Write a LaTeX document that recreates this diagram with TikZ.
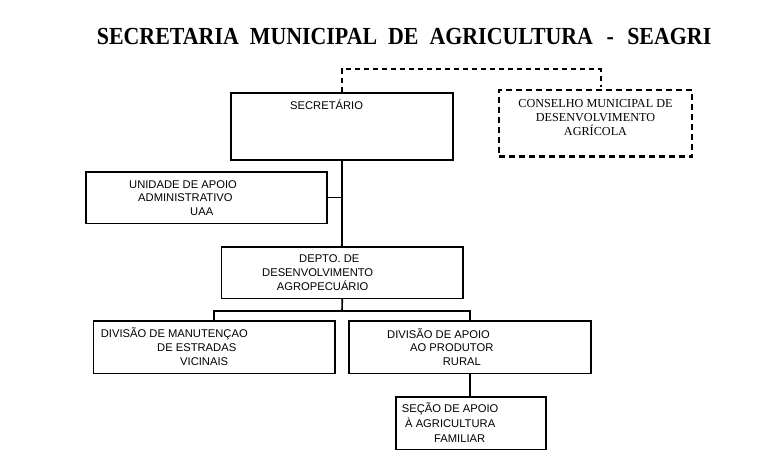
\documentclass[tikz,border=0pt]{standalone}
\usepackage{fontspec}
\setmainfont{Liberation Serif}
\newfontfamily\arialf{Liberation Sans}
\usetikzlibrary{calc}
\begin{document}
\begin{tikzpicture}[x=1pt,y=-1pt,
  box/.style={draw, line width=1.6pt, inner sep=0pt, anchor=center},
  dbox/.style={draw, line width=2.5pt, dash pattern=on 6pt off 4pt, inner sep=0pt, anchor=center},
  conn/.style={line width=1.6pt},
  dconn/.style={line width=1.8pt, dash pattern=on 5pt off 4pt},
  txt/.style={anchor=base west, inner sep=0pt, font=\arialf\fontsize{11.2}{13}\selectfont},
  stxt/.style={anchor=base, inner sep=0pt, font=\fontsize{12.2}{14}\selectfont},
  ttl/.style={anchor=base west, inner sep=0pt, font=\bfseries\fontsize{21.9}{24}\selectfont}]
\useasboundingbox (0,0) rectangle (769,471);
% title
\node[ttl] (title) at (96.7,44.3) {\scalebox{1}[1.12]{SECRETARIA\hspace{11pt}MUNICIPAL\hspace{11pt}DE\hspace{11pt}AGRICULTURA\hspace{13.5pt}-\hspace{13.5pt}SEAGRI}};
% boxes
\node[box, minimum width=222pt, minimum height=67pt] (sec) at (342,126.5) {};
\node[dbox, minimum width=193pt, minimum height=66.7pt] (cons) at (595.5,123.3) {};
\node[box, minimum width=241pt, minimum height=51.6pt] (uaa) at (206.2,197.5) {};
\node[box, minimum width=241.3pt, minimum height=51.6pt] (dep) at (342.3,272.5) {};
\node[box, minimum width=241.7pt, minimum height=52.5pt] (man) at (214.2,347.3) {};
\node[box, minimum width=241.7pt, minimum height=52.5pt] (apo) at (469.9,347.3) {};
\node[box, minimum width=150pt, minimum height=52.6pt] (fam) at (470.7,423) {};
% texts
\node[txt] (t1) at (290,109) {SECRETÁRIO};
\node[stxt] (c1) at (595.5,107.5) {CONSELHO MUNICIPAL DE};
\node[stxt] (c2) at (595.5,121.5) {DESENVOLVIMENTO};
\node[stxt] (c3) at (595.5,135.5) {AGRÍCOLA};
\node[txt] (u1) at (129,188.3) {UNIDADE DE APOIO};
\node[txt] (u2) at (138,201.7) {ADMINISTRATIVO};
\node[txt] (u3) at (190,215.7) {UAA};
\node[txt] (d1) at (299,262.3) {DEPTO. DE};
\node[txt] (d2) at (262,276.7) {DESENVOLVIMENTO};
\node[txt] (d3) at (276.7,290.7) {AGROPECUÁRIO};
\node[txt] (m1) at (100.7,337.3) {DIVISÃO DE MANUTENÇAO};
\node[txt] (m2) at (157,351.3) {DE ESTRADAS};
\node[txt] (m3) at (180,365.7) {VICINAIS};
\node[txt] (a1) at (387,338) {DIVISÃO DE APOIO};
\node[txt] (a2) at (410,351.7) {AO PRODUTOR};
\node[txt] (a3) at (442.7,365.7) {RURAL};
\node[txt] (f1) at (401.7,412.3) {SEÇÃO DE APOIO};
\node[txt] (f2) at (405,427.3) {À AGRICULTURA};
\node[txt] (f3) at (434,442.3) {FAMILIAR};
% connectors
\coordinate (cj) at (600.7,69.3);
\coordinate (cend) at (600.7,86.7);
\coordinate (bar) at (342,310.7);
\draw[dconn] (sec.north) |- (cj) -- (cend);
\draw[conn] (sec.south) -- (sec.south |- dep.north);
\draw[conn] (uaa.east) -- (uaa.east -| sec.south);
\draw[conn] (dep.south) -- (bar);
\draw[conn] (man.north) |- (bar) -| (apo.north);
\draw[conn] (apo.south) -- (apo.south |- fam.north);
\end{tikzpicture}
\end{document}
